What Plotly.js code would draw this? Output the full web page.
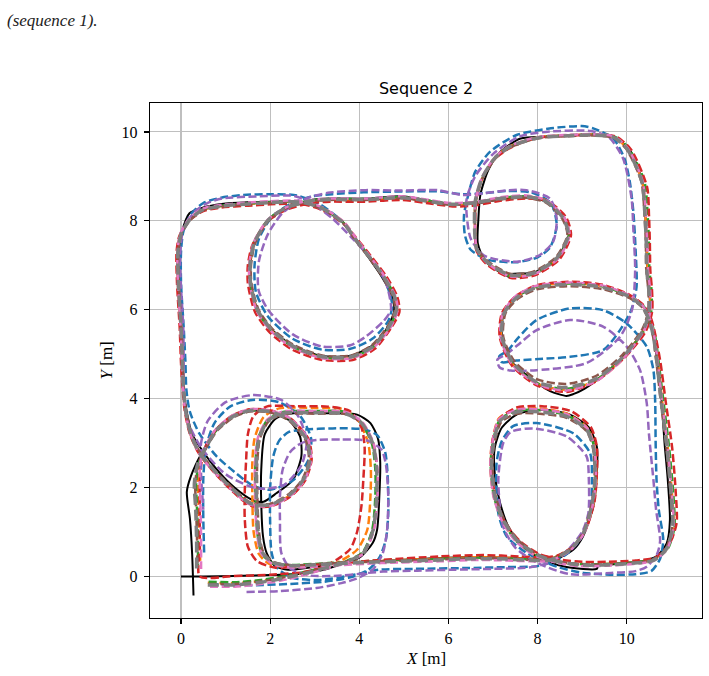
<!DOCTYPE html>
<html><head><meta charset="utf-8">
<script src="https://cdn.plot.ly/plotly-3.0.1.min.js"></script>
<style>body{margin:0;background:#fff}#plot{width:709px;height:676px}</style>
</head><body><div id="plot"></div>
<script>
// ---------- data (x, y in metres) ----------
const groundTruth = [[0,0],[0.5,0],[1.2,0.01],[2.0,0.03],[2.7,0.06],[3.2,0.15],[3.6,0.28],[4.0,0.42],[4.3,0.75],[4.4,1.05],[4.45,1.8],[4.47,2.56],[4.42,3.1],[4.25,3.45],[3.95,3.64],[3.3,3.67],[2.6,3.68],[2.14,3.56],[1.88,3.2],[1.8,2.4],[1.8,1.65],[1.84,0.9],[1.92,0.53],[2.1,0.24],[2.4,0.15],[3.0,0.22],[3.5,0.3],[4.5,0.35],[5.5,0.4],[6.5,0.44],[7.3,0.42],[7.9,0.4],[8.35,0.37],[8.8,0.6],[9.02,0.9],[9.25,1.57],[9.33,2.3],[9.33,2.92],[9.15,3.35],[8.7,3.65],[8.1,3.75],[7.55,3.65],[7.2,3.35],[7.04,2.9],[7.04,2.3],[7.16,1.65],[7.38,1.05],[7.75,0.6],[8.2,0.35],[8.65,0.21],[9.33,0.17],[9.36,0.24],[9.8,0.28],[10.3,0.33],[10.67,0.45],[10.9,0.75],[10.97,1.27],[10.92,2.2],[10.85,3.0],[10.75,4.4],[10.65,5.1],[10.55,5.7],[10.4,6.05],[10.07,6.3],[9.47,6.53],[8.73,6.6],[7.98,6.53],[7.53,6.3],[7.25,5.95],[7.2,5.4],[7.4,4.85],[7.9,4.42],[8.28,4.17],[8.65,4.06],[8.8,4.1],[9.05,4.22],[9.33,4.42],[9.92,4.94],[10.35,5.5],[10.52,5.95],[10.5,6.5],[10.45,7.2],[10.42,8.13],[10.35,8.88],[10.05,9.62],[9.6,9.93],[8.9,9.93],[8.18,9.89],[7.62,9.85],[7.16,9.55],[6.9,9.15],[6.72,8.6],[6.67,8.0],[6.66,7.49],[6.82,7.1],[7.2,6.82],[7.38,6.74],[7.42,6.8],[7.9,6.83],[8.43,7.16],[8.7,7.68],[8.6,8.05],[8.2,8.43],[7.75,8.53],[7.16,8.48],[6.63,8.39],[6.05,8.38],[5.5,8.47],[4.95,8.55],[4.14,8.5],[3.34,8.5],[2.93,8.47],[2.37,8.31],[1.96,8.02],[1.64,7.49],[1.56,7.0],[1.57,6.59],[1.72,5.99],[2.04,5.55],[2.53,5.18],[3.17,4.96],[3.82,4.97],[4.3,5.2],[4.6,5.55],[4.78,5.95],[4.74,6.3],[4.5,6.75],[4.2,7.19],[3.9,7.6],[3.66,7.94],[3.17,8.28],[2.69,8.43],[2.0,8.43],[1.5,8.42],[0.91,8.38],[0.5,8.3],[0.19,8.17],[0.02,7.75],[-0.05,7.3],[-0.05,6.6],[0.0,5.6],[0.03,4.8],[0.05,4.3],[0.12,3.75],[0.25,3.2],[0.5,2.8],[0.85,2.35],[1.2,2.0],[1.6,1.72],[1.85,1.68],[2.14,1.87],[2.51,2.17],[2.7,2.7],[2.67,3.15],[2.44,3.5],[2.1,3.68],[1.6,3.73],[1.17,3.6],[0.8,3.3],[0.45,2.75],[0.22,2.25],[0.13,1.9],[0.2,1.3],[0.25,0.5],[0.28,-0.43]];

const estBlue = [[0.65,-0.17],[1.5,-0.2],[2.4,-0.17],[3.2,-0.12],[3.8,-0.02],[4.2,0.15],[4.45,0.42],[4.6,0.85],[4.65,1.42],[4.64,2.2],[4.58,2.8],[4.4,3.18],[4.1,3.31],[3.4,3.33],[2.74,3.3],[2.42,3.25],[2.2,3.05],[2.07,2.7],[2.0,2.0],[2.0,1.2],[2.03,0.55],[2.15,0.2],[2.5,-0.03],[3.1,-0.08],[3.8,0.02],[4.43,0.15],[5.2,0.17],[6.44,0.19],[7.31,0.21],[8.05,0.24],[8.58,0.45],[8.95,0.82],[9.18,1.42],[9.22,2.17],[9.18,2.77],[8.8,3.22],[7.98,3.45],[7.45,3.38],[7.2,3.05],[7.08,2.55],[7.12,1.42],[7.31,0.9],[7.75,0.53],[8.43,0.22],[9.03,0.08],[9.7,0.04],[10.2,0.05],[10.55,0.12],[10.75,0.4],[10.82,0.82],[10.72,1.5],[10.67,2.17],[10.65,3.0],[10.64,3.9],[10.6,4.64],[10.45,5.17],[10.0,5.69],[9.47,5.99],[8.73,6.03],[7.98,5.77],[7.55,5.35],[7.33,5.08],[7.14,4.95],[7.2,4.82],[7.53,4.86],[8.2,4.9],[8.73,4.94],[9.47,5.09],[9.85,5.54],[10.1,5.99],[10.22,6.5],[10.2,7.34],[10.15,8.2],[10.07,8.88],[9.95,9.4],[9.7,9.85],[9.25,10.08],[8.99,10.13],[8.3,10.08],[7.53,9.93],[6.93,9.55],[6.6,9.1],[6.45,8.6],[6.35,8.13],[6.37,7.68],[6.5,7.35],[6.9,7.12],[7.53,7.07],[8.0,7.18],[8.28,7.4],[8.43,7.9],[8.3,8.4],[7.85,8.64],[7.3,8.67],[6.8,8.62],[6.3,8.6],[5.8,8.66],[5.0,8.66],[4.1,8.64],[3.4,8.6],[2.95,8.55],[2.5,8.4],[2.05,8.1],[1.75,7.6],[1.65,7.0],[1.68,6.4],[1.95,5.85],[2.5,5.35],[3.17,5.1],[3.8,5.12],[4.3,5.35],[4.65,5.75],[4.74,6.1],[4.6,6.6],[4.3,7.1],[3.9,7.6],[3.6,8.0],[3.1,8.38],[2.6,8.57],[2.0,8.6],[1.4,8.58],[0.9,8.52],[0.5,8.4],[0.22,8.15],[0.05,7.75],[0.0,7.3],[0.0,6.6],[0.06,5.6],[0.1,4.8],[0.12,4.2],[0.2,3.7],[0.42,3.2],[0.8,2.7],[1.2,2.35],[1.6,2.05],[2.0,1.95],[2.5,2.15],[2.85,2.6],[2.92,3.1],[2.68,3.6],[2.2,3.92],[1.6,3.97],[1.1,3.82],[0.75,3.45],[0.56,2.9],[0.5,2.2],[0.5,1.3],[0.52,0.5]];

const estOrange = [[0.6,-0.14],[1.2,-0.15],[1.8,-0.1],[2.4,0.0],[2.9,0.12],[3.3,0.24],[3.6,0.36],[3.95,0.6],[4.18,1.05],[4.25,1.8],[4.26,2.4],[4.2,3.0],[3.98,3.5],[3.65,3.76],[3.0,3.79],[2.2,3.78],[1.85,3.58],[1.65,3.1],[1.6,2.55],[1.6,1.88],[1.63,1.0],[1.75,0.5],[2.0,0.27],[2.5,0.22],[3.3,0.27],[4.5,0.35],[5.8,0.4],[6.56,0.43],[7.31,0.42],[7.9,0.39],[8.3,0.4],[8.75,0.63],[9.05,1.0],[9.24,1.57],[9.32,2.17],[9.28,2.92],[9.12,3.34],[8.66,3.66],[8.05,3.78],[7.53,3.77],[7.13,3.55],[6.97,2.94],[6.94,2.47],[7.02,1.8],[7.21,1.26],[7.52,0.8],[7.97,0.47],[8.43,0.33],[8.95,0.27],[9.55,0.28],[10.15,0.31],[10.6,0.38],[10.9,0.62],[11.05,1.1],[11.02,1.8],[10.92,2.92],[10.8,3.9],[10.7,4.8],[10.61,5.4],[10.51,5.79],[10.36,6.08],[10.07,6.31],[9.47,6.53],[8.73,6.6],[7.98,6.53],[7.52,6.29],[7.23,5.92],[7.18,5.39],[7.43,4.79],[7.98,4.34],[8.65,4.2],[9.33,4.42],[9.93,4.93],[10.38,5.54],[10.52,5.95],[10.52,6.4],[10.47,6.89],[10.45,7.5],[10.42,8.13],[10.35,8.88],[10.01,9.63],[9.7,9.89],[9.2,9.94],[8.6,9.92],[8.1,9.89],[7.75,9.81],[7.35,9.66],[7.05,9.43],[6.76,8.95],[6.61,8.43],[6.6,7.75],[6.64,7.37],[6.87,7.06],[7.38,6.76],[7.91,6.8],[8.45,7.15],[8.71,7.68],[8.6,8.06],[8.21,8.45],[7.75,8.55],[7.16,8.51],[6.63,8.41],[6.03,8.37],[5.5,8.45],[4.95,8.52],[4.14,8.47],[3.34,8.47],[2.93,8.44],[2.36,8.29],[1.95,8.01],[1.63,7.48],[1.54,7.0],[1.55,6.59],[1.71,5.98],[2.03,5.53],[2.52,5.15],[3.17,4.92],[3.83,4.92],[4.31,5.16],[4.69,5.61],[4.85,5.99],[4.8,6.3],[4.56,6.75],[4.23,7.2],[3.91,7.61],[3.67,7.95],[3.17,8.28],[2.69,8.42],[2.0,8.41],[1.5,8.38],[0.91,8.33],[0.5,8.25],[0.19,8.03],[-0.01,7.7],[-0.08,7.3],[-0.07,6.6],[-0.01,5.6],[0.02,4.8],[0.04,4.3],[0.09,3.75],[0.21,3.2],[0.41,2.76],[0.79,2.31],[1.16,1.94],[1.54,1.63],[1.99,1.59],[2.45,1.83],[2.76,2.16],[2.91,2.62],[2.84,3.08],[2.45,3.54],[1.99,3.73],[1.54,3.75],[1.16,3.61],[0.79,3.3],[0.56,2.92],[0.42,2.55],[0.38,2.1],[0.4,1.5],[0.42,0.8],[0.43,0.35]];

const estGreen = [[0.62,-0.12],[1.2,-0.13],[1.8,-0.08],[2.4,0.02],[2.9,0.13],[3.35,0.25],[3.7,0.34],[4.08,0.55],[4.29,1.05],[4.36,1.8],[4.36,2.4],[4.28,3.0],[4.03,3.47],[3.7,3.7],[3.0,3.72],[2.29,3.7],[1.94,3.52],[1.73,3.1],[1.67,2.55],[1.67,1.88],[1.71,1.0],[1.81,0.52],[2.05,0.3],[2.5,0.26],[3.3,0.3],[4.5,0.36],[5.8,0.4],[6.56,0.42],[7.31,0.41],[7.9,0.38],[8.28,0.39],[8.74,0.62],[9.04,0.99],[9.23,1.57],[9.3,2.17],[9.27,2.92],[9.11,3.32],[8.65,3.63],[8.05,3.74],[7.53,3.73],[7.15,3.52],[6.98,2.92],[6.95,2.47],[7.02,1.8],[7.21,1.26],[7.51,0.81],[7.97,0.48],[8.43,0.33],[8.95,0.28],[9.55,0.28],[10.15,0.32],[10.62,0.39],[10.92,0.62],[11.07,1.1],[11.05,1.8],[10.95,2.92],[10.83,3.9],[10.72,4.8],[10.64,5.4],[10.53,5.8],[10.37,6.09],[10.07,6.31],[9.47,6.52],[8.73,6.59],[7.98,6.52],[7.52,6.28],[7.23,5.92],[7.18,5.39],[7.43,4.79],[7.98,4.35],[8.65,4.22],[9.33,4.43],[9.93,4.94],[10.4,5.54],[10.55,5.95],[10.56,6.4],[10.51,6.89],[10.5,7.5],[10.47,8.13],[10.4,8.88],[10.04,9.64],[9.72,9.9],[9.2,9.94],[8.6,9.92],[8.1,9.89],[7.75,9.81],[7.35,9.66],[7.05,9.43],[6.76,8.96],[6.61,8.43],[6.6,7.75],[6.64,7.37],[6.87,7.06],[7.38,6.76],[7.9,6.8],[8.44,7.15],[8.71,7.68],[8.6,8.06],[8.2,8.44],[7.75,8.55],[7.16,8.51],[6.63,8.42],[6.03,8.38],[5.5,8.46],[4.95,8.53],[4.14,8.49],[3.34,8.49],[2.93,8.46],[2.36,8.3],[1.95,8.02],[1.63,7.49],[1.54,7.0],[1.55,6.59],[1.71,5.98],[2.03,5.53],[2.53,5.16],[3.17,4.93],[3.82,4.93],[4.31,5.16],[4.68,5.62],[4.84,5.99],[4.8,6.29],[4.56,6.74],[4.23,7.19],[3.91,7.6],[3.66,7.94],[3.17,8.28],[2.69,8.43],[2.0,8.42],[1.5,8.39],[0.91,8.34],[0.5,8.26],[0.2,8.04],[0.0,7.7],[-0.07,7.3],[-0.06,6.6],[0.0,5.6],[0.03,4.8],[0.05,4.3],[0.1,3.75],[0.22,3.2],[0.42,2.77],[0.8,2.32],[1.17,1.95],[1.54,1.64],[1.99,1.6],[2.45,1.83],[2.75,2.17],[2.9,2.62],[2.83,3.07],[2.45,3.53],[1.99,3.72],[1.54,3.74],[1.17,3.61],[0.8,3.3],[0.57,2.92],[0.4,2.55],[0.34,2.1],[0.36,1.5],[0.38,0.8],[0.38,0.25]];

const estRed = [[0.42,0.0],[1.2,0.01],[2.0,0.04],[2.7,0.09],[3.15,0.2],[3.5,0.38],[3.8,0.62],[3.95,1.0],[4.05,1.6],[4.09,2.17],[4.12,2.9],[4.05,3.35],[3.79,3.72],[3.3,3.82],[2.6,3.83],[1.92,3.82],[1.62,3.6],[1.5,3.2],[1.46,2.6],[1.43,1.9],[1.43,1.3],[1.5,0.67],[1.7,0.35],[2.1,0.2],[2.7,0.24],[3.5,0.3],[4.5,0.37],[5.8,0.45],[6.8,0.48],[7.6,0.45],[8.1,0.43],[8.45,0.47],[8.85,0.72],[9.1,1.1],[9.28,1.7],[9.33,2.3],[9.33,2.92],[9.2,3.35],[8.75,3.72],[8.1,3.83],[7.53,3.8],[7.15,3.55],[6.98,3.0],[6.97,2.4],[7.06,1.75],[7.28,1.2],[7.62,0.78],[8.05,0.5],[8.5,0.38],[9.0,0.33],[9.6,0.33],[10.2,0.36],[10.65,0.43],[10.97,0.75],[11.12,1.2],[11.1,1.9],[11.02,2.9],[10.88,3.9],[10.76,4.8],[10.65,5.4],[10.55,5.8],[10.38,6.1],[10.07,6.33],[9.47,6.56],[8.73,6.63],[7.98,6.55],[7.5,6.3],[7.2,5.92],[7.15,5.39],[7.42,4.75],[7.98,4.3],[8.65,4.15],[9.33,4.4],[9.95,4.92],[10.42,5.5],[10.57,5.95],[10.57,6.4],[10.53,6.89],[10.52,7.5],[10.5,8.13],[10.46,8.75],[10.1,9.6],[9.75,9.9],[9.2,9.93],[8.6,9.91],[8.1,9.88],[7.75,9.8],[7.35,9.62],[7.05,9.4],[6.75,8.95],[6.62,8.43],[6.6,7.75],[6.63,7.33],[6.86,7.02],[7.38,6.72],[7.9,6.76],[8.48,7.12],[8.75,7.68],[8.64,8.08],[8.22,8.45],[7.75,8.5],[7.16,8.45],[6.63,8.35],[6.16,8.32],[5.5,8.4],[4.95,8.47],[4.14,8.43],[3.34,8.43],[2.93,8.4],[2.37,8.25],[1.93,7.98],[1.6,7.45],[1.5,7.0],[1.5,6.59],[1.66,5.95],[2.0,5.48],[2.5,5.1],[3.17,4.87],[3.85,4.87],[4.35,5.12],[4.72,5.6],[4.9,5.95],[4.85,6.3],[4.6,6.76],[4.25,7.22],[3.92,7.63],[3.66,7.92],[3.17,8.24],[2.69,8.38],[2.0,8.37],[1.5,8.34],[0.91,8.3],[0.5,8.22],[0.18,8.0],[-0.04,7.65],[-0.1,7.3],[-0.09,6.6],[-0.03,5.6],[0.0,4.8],[0.03,4.3],[0.08,3.75],[0.2,3.2],[0.4,2.77],[0.78,2.3],[1.15,1.92],[1.54,1.6],[1.99,1.57],[2.46,1.8],[2.78,2.15],[2.93,2.62],[2.86,3.09],[2.46,3.55],[1.99,3.74],[1.54,3.76],[1.15,3.62],[0.78,3.3],[0.55,2.92],[0.45,2.5],[0.42,2.0],[0.42,1.3],[0.42,0.6],[0.42,0.0]];

const estPurple = [[1.47,-0.35],[2.2,-0.33],[3.04,-0.26],[3.6,-0.15],[3.94,-0.05],[4.3,0.15],[4.52,0.5],[4.62,1.0],[4.65,1.8],[4.6,2.5],[4.5,2.85],[4.2,3.05],[3.6,3.08],[3.04,3.07],[2.7,3.0],[2.45,2.8],[2.28,2.4],[2.22,1.8],[2.22,1.27],[2.25,0.53],[2.45,0.18],[2.9,0.02],[3.6,0.02],[4.2,0.08],[4.54,0.11],[5.3,0.13],[6.04,0.15],[7.0,0.17],[7.8,0.2],[8.3,0.32],[8.7,0.62],[9.0,1.0],[9.14,1.42],[9.15,2.2],[9.1,2.7],[8.65,3.15],[7.9,3.33],[7.4,3.25],[7.23,3.0],[7.12,2.17],[7.23,1.12],[7.5,0.65],[8.0,0.3],[8.73,0.05],[9.65,0.08],[10.2,0.12],[10.45,0.22],[10.68,0.5],[10.75,0.8],[10.66,1.5],[10.6,2.17],[10.5,3.2],[10.45,3.9],[10.3,4.64],[10.0,5.17],[9.47,5.62],[8.73,5.77],[7.98,5.54],[7.55,5.2],[7.3,5.0],[7.1,4.88],[7.15,4.7],[7.4,4.63],[7.98,4.64],[9.1,4.8],[9.85,5.39],[10.12,6.0],[10.19,6.89],[10.15,7.8],[10.11,8.5],[9.92,9.4],[9.6,9.88],[9.2,10.02],[8.18,10.0],[7.6,9.9],[7.0,9.5],[6.6,9.0],[6.41,8.5],[6.41,8.13],[6.5,7.6],[6.8,7.22],[7.53,7.08],[8.05,7.23],[8.35,7.53],[8.43,8.05],[8.28,8.5],[7.75,8.69],[7.37,8.69],[6.8,8.62],[6.32,8.58],[5.76,8.69],[4.95,8.68],[4.14,8.69],[3.3,8.63],[2.8,8.5],[2.3,8.2],[1.95,7.7],[1.75,7.1],[1.74,6.44],[1.96,5.99],[2.5,5.45],[3.17,5.17],[3.8,5.2],[4.14,5.39],[4.55,5.75],[4.71,6.0],[4.6,6.6],[4.3,7.1],[3.85,7.6],[3.4,8.05],[2.9,8.42],[2.53,8.56],[1.72,8.55],[0.92,8.5],[0.59,8.4],[0.3,8.2],[0.05,7.8],[-0.02,7.2],[0.0,6.5],[0.05,5.6],[0.06,4.8],[0.06,4.2],[0.15,3.5],[0.45,2.9],[1.0,2.3],[1.7,1.98],[2.3,2.05],[2.7,2.5],[2.82,3.05],[2.62,3.62],[2.25,3.97],[1.62,4.08],[1.0,3.92],[0.6,3.5],[0.45,3.0],[0.45,2.3],[0.5,1.5]];

const estBrown = [[0.62,-0.17],[1.2,-0.17],[1.8,-0.11],[2.4,0.0],[2.9,0.11],[3.35,0.23],[3.7,0.33],[4.1,0.54],[4.32,1.05],[4.4,1.8],[4.4,2.4],[4.31,3.0],[4.06,3.45],[3.7,3.65],[3.0,3.66],[2.29,3.65],[1.96,3.48],[1.77,3.1],[1.71,2.55],[1.71,1.88],[1.75,1.0],[1.84,0.56],[2.06,0.33],[2.5,0.25],[3.3,0.29],[4.5,0.34],[5.8,0.38],[6.56,0.41],[7.31,0.4],[7.9,0.37],[8.28,0.38],[8.72,0.61],[9.02,0.98],[9.2,1.57],[9.28,2.17],[9.24,2.92],[9.09,3.28],[8.65,3.57],[8.05,3.66],[7.53,3.66],[7.18,3.47],[7.02,2.92],[6.99,2.47],[7.06,1.8],[7.25,1.28],[7.55,0.83],[7.99,0.5],[8.43,0.35],[8.95,0.27],[9.55,0.27],[10.15,0.31],[10.6,0.37],[10.87,0.61],[11.02,1.1],[10.99,1.8],[10.89,2.92],[10.77,3.9],[10.67,4.8],[10.59,5.4],[10.49,5.78],[10.34,6.06],[10.07,6.26],[9.47,6.46],[8.73,6.53],[7.98,6.46],[7.55,6.24],[7.28,5.92],[7.23,5.39],[7.48,4.84],[7.98,4.44],[8.65,4.33],[9.33,4.52],[9.9,4.98],[10.35,5.56],[10.48,5.95],[10.49,6.4],[10.44,6.89],[10.43,7.5],[10.4,8.13],[10.33,8.88],[9.99,9.62],[9.7,9.87],[9.2,9.92],[8.6,9.9],[8.1,9.87],[7.75,9.79],[7.36,9.64],[7.06,9.41],[6.76,8.94],[6.61,8.43],[6.6,7.75],[6.64,7.39],[6.87,7.1],[7.38,6.81],[7.89,6.85],[8.41,7.18],[8.67,7.68],[8.56,8.04],[8.19,8.41],[7.75,8.52],[7.16,8.48],[6.63,8.4],[6.03,8.36],[5.5,8.44],[4.95,8.51],[4.14,8.47],[3.34,8.47],[2.93,8.44],[2.38,8.29],[1.97,8.01],[1.66,7.49],[1.57,7.0],[1.58,6.59],[1.74,6.0],[2.06,5.56],[2.54,5.2],[3.17,4.97],[3.81,4.97],[4.28,5.2],[4.64,5.63],[4.8,5.99],[4.76,6.28],[4.53,6.73],[4.21,7.18],[3.89,7.59],[3.65,7.93],[3.17,8.27],[2.69,8.41],[2.0,8.4],[1.5,8.37],[0.91,8.32],[0.5,8.24],[0.21,8.02],[0.01,7.7],[-0.06,7.3],[-0.05,6.6],[0.01,5.6],[0.04,4.8],[0.06,4.3],[0.11,3.75],[0.23,3.2],[0.43,2.78],[0.81,2.33],[1.18,1.97],[1.54,1.67],[1.99,1.63],[2.43,1.86],[2.72,2.18],[2.87,2.62],[2.8,3.06],[2.43,3.5],[1.99,3.69],[1.54,3.71],[1.18,3.58],[0.82,3.29],[0.58,2.92],[0.39,2.55],[0.32,2.1],[0.34,1.5],[0.36,0.8],[0.37,0.2]];

const estPink = [[0.65,-0.23],[1.2,-0.23],[1.8,-0.17],[2.4,-0.06],[2.9,0.07],[3.35,0.2],[3.7,0.3],[4.1,0.52],[4.33,1.05],[4.41,1.8],[4.41,2.4],[4.32,3.0],[4.07,3.47],[3.7,3.7],[3.0,3.72],[2.29,3.71],[1.93,3.52],[1.72,3.1],[1.66,2.55],[1.66,1.88],[1.7,1.0],[1.8,0.52],[2.05,0.28],[2.5,0.2],[3.3,0.24],[4.5,0.3],[5.8,0.34],[6.56,0.37],[7.31,0.36],[7.9,0.34],[8.28,0.35],[8.73,0.58],[9.05,0.98],[9.23,1.57],[9.31,2.17],[9.27,2.92],[9.12,3.33],[8.65,3.65],[8.05,3.76],[7.53,3.75],[7.13,3.53],[6.97,2.92],[6.94,2.47],[7.01,1.8],[7.2,1.25],[7.5,0.8],[7.96,0.46],[8.43,0.31],[8.95,0.23],[9.55,0.24],[10.15,0.28],[10.6,0.35],[10.9,0.6],[11.05,1.1],[11.02,1.8],[10.92,2.92],[10.8,3.9],[10.7,4.8],[10.62,5.4],[10.52,5.8],[10.36,6.09],[10.07,6.32],[9.47,6.54],[8.73,6.61],[7.98,6.54],[7.5,6.3],[7.22,5.92],[7.17,5.39],[7.42,4.78],[7.98,4.33],[8.65,4.18],[9.33,4.4],[9.94,4.92],[10.39,5.53],[10.53,5.95],[10.53,6.4],[10.48,6.89],[10.46,7.5],[10.43,8.13],[10.36,8.88],[10.02,9.64],[9.7,9.9],[9.2,9.95],[8.6,9.93],[8.1,9.9],[7.75,9.82],[7.35,9.67],[7.05,9.44],[6.75,8.97],[6.61,8.43],[6.6,7.75],[6.64,7.36],[6.87,7.05],[7.38,6.75],[7.92,6.8],[8.46,7.15],[8.72,7.68],[8.6,8.07],[8.2,8.46],[7.75,8.57],[7.16,8.53],[6.63,8.43],[6.03,8.4],[5.5,8.48],[4.95,8.55],[4.14,8.5],[3.34,8.5],[2.93,8.47],[2.35,8.3],[1.94,8.02],[1.62,7.49],[1.53,7.0],[1.54,6.59],[1.7,5.97],[2.02,5.52],[2.52,5.14],[3.17,4.91],[3.84,4.91],[4.32,5.15],[4.7,5.6],[4.86,5.99],[4.81,6.3],[4.57,6.75],[4.24,7.2],[3.92,7.62],[3.67,7.96],[3.17,8.3],[2.69,8.45],[2.0,8.44],[1.5,8.41],[0.91,8.36],[0.5,8.28],[0.18,8.05],[-0.02,7.7],[-0.08,7.3],[-0.07,6.6],[-0.01,5.6],[0.02,4.8],[0.04,4.3],[0.09,3.75],[0.21,3.2],[0.41,2.75],[0.79,2.3],[1.16,1.93],[1.54,1.62],[1.99,1.58],[2.46,1.82],[2.77,2.16],[2.92,2.62],[2.85,3.08],[2.46,3.55],[1.99,3.74],[1.54,3.76],[1.15,3.62],[0.78,3.31],[0.55,2.92],[0.43,2.55],[0.42,2.1],[0.44,1.5],[0.45,0.8],[0.45,0.1]];

const estGray = [[0.6,-0.19],[1.2,-0.19],[1.8,-0.13],[2.4,-0.02],[2.9,0.1],[3.35,0.22],[3.7,0.32],[4.09,0.53],[4.31,1.05],[4.39,1.8],[4.39,2.4],[4.3,3.0],[4.05,3.45],[3.7,3.66],[3.0,3.68],[2.29,3.67],[1.95,3.5],[1.75,3.1],[1.69,2.55],[1.69,1.88],[1.73,1.0],[1.82,0.55],[2.05,0.32],[2.5,0.24],[3.3,0.28],[4.5,0.33],[5.8,0.37],[6.56,0.4],[7.31,0.39],[7.9,0.36],[8.28,0.37],[8.73,0.6],[9.03,0.98],[9.21,1.57],[9.29,2.17],[9.25,2.92],[9.1,3.3],[8.65,3.6],[8.05,3.7],[7.53,3.7],[7.16,3.5],[7.0,2.92],[6.97,2.47],[7.04,1.8],[7.23,1.27],[7.53,0.82],[7.98,0.49],[8.43,0.34],[8.95,0.26],[9.55,0.26],[10.15,0.3],[10.6,0.36],[10.88,0.6],[11.03,1.1],[11.0,1.8],[10.9,2.92],[10.78,3.9],[10.68,4.8],[10.6,5.4],[10.5,5.78],[10.35,6.07],[10.07,6.29],[9.47,6.5],[8.73,6.57],[7.98,6.5],[7.53,6.27],[7.25,5.92],[7.2,5.39],[7.45,4.8],[7.98,4.37],[8.65,4.25],[9.33,4.45],[9.92,4.94],[10.37,5.54],[10.5,5.95],[10.5,6.4],[10.45,6.89],[10.44,7.5],[10.41,8.13],[10.34,8.88],[10.0,9.63],[9.7,9.88],[9.2,9.93],[8.6,9.91],[8.1,9.88],[7.75,9.8],[7.35,9.65],[7.05,9.42],[6.75,8.95],[6.6,8.43],[6.59,7.75],[6.63,7.38],[6.86,7.08],[7.38,6.78],[7.9,6.82],[8.43,7.16],[8.69,7.68],[8.58,8.05],[8.2,8.43],[7.75,8.54],[7.16,8.5],[6.63,8.41],[6.03,8.37],[5.5,8.45],[4.95,8.52],[4.14,8.48],[3.34,8.48],[2.93,8.45],[2.37,8.3],[1.96,8.02],[1.64,7.49],[1.55,7.0],[1.56,6.59],[1.72,5.99],[2.04,5.54],[2.53,5.17],[3.17,4.94],[3.82,4.94],[4.3,5.17],[4.67,5.62],[4.83,5.99],[4.79,6.29],[4.55,6.74],[4.22,7.19],[3.9,7.6],[3.66,7.94],[3.17,8.28],[2.69,8.42],[2.0,8.41],[1.5,8.38],[0.91,8.33],[0.5,8.25],[0.2,8.03],[0.0,7.7],[-0.07,7.3],[-0.06,6.6],[0.0,5.6],[0.03,4.8],[0.05,4.3],[0.1,3.75],[0.22,3.2],[0.42,2.77],[0.8,2.32],[1.17,1.95],[1.54,1.65],[1.99,1.61],[2.44,1.84],[2.74,2.17],[2.89,2.62],[2.82,3.07],[2.44,3.52],[1.99,3.71],[1.54,3.73],[1.17,3.6],[0.8,3.3],[0.57,2.92],[0.38,2.55],[0.3,2.1],[0.33,1.5],[0.35,0.8],[0.35,0.15]];

const tickValues = [0, 2, 4, 6, 8, 10];
const tickLabels = ['0', '2', '4', '6', '8', '10'];

// ---------- styling ----------
const series = [
  {pts: groundTruth, color: '#000000', width: 2.0, dash: 'solid'},
  {pts: estBlue,   color: '#1f77b4', width: 2.5, dash: '8px,3.5px'},
  {pts: estOrange, color: '#ff7f0e', width: 2.5, dash: '8px,3.5px'},
  {pts: estGreen,  color: '#2ca02c', width: 2.5, dash: '8px,3.5px'},
  {pts: estRed,    color: '#d62728', width: 2.5, dash: '8px,3.5px'},
  {pts: estPurple, color: '#9467bd', width: 2.5, dash: '8px,3.5px'},
  {pts: estBrown,  color: '#8c564b', width: 2.5, dash: '8px,3.5px'},
  {pts: estPink,   color: '#e377c2', width: 2.5, dash: '8px,3.5px'},
  {pts: estGray,   color: '#7f7f7f', width: 3.5, dash: '11px,5px'}
];

const traces = series.map(s => ({
  type: 'scatter', mode: 'lines',
  x: s.pts.map(p => p[0]), y: s.pts.map(p => p[1]),
  line: {color: s.color, width: s.width, dash: s.dash, shape: 'spline', smoothing: 0.7},
  hoverinfo: 'skip', showlegend: false
}));

const serif = 'Liberation Serif, DejaVu Serif, serif';
const axisCommon = {
  tickvals: tickValues, ticktext: tickLabels,
  showgrid: true, gridcolor: '#bfbfbf', gridwidth: 1.1,
  zeroline: false, showline: true, linecolor: '#000', linewidth: 1.3, mirror: true,
  ticks: 'outside', ticklen: 5, tickwidth: 1.2, tickcolor: '#000',
  tickfont: {family: serif, size: 16, color: '#000'}
};

const layout = {
  width: 709, height: 676,
  margin: {l: 150, r: 7, t: 103, b: 58},
  paper_bgcolor: '#ffffff', plot_bgcolor: '#ffffff',
  showlegend: false,
  title: {text: 'Sequence 2', font: {family: 'DejaVu Sans', size: 16, color: '#000'},
          x: 0.5, xref: 'paper', y: 1 - 88/676, yref: 'container', yanchor: 'middle'},
  xaxis: Object.assign({}, axisCommon, {range: [-0.696, 11.69]}),
  yaxis: Object.assign({}, axisCommon, {range: [-0.935, 10.65], ticklabelstandoff: 3}),
  annotations: [
    {text: '<i>X</i> [m]', xref: 'paper', yref: 'paper', x: 0.5, y: (618 - 658) / 515,
     xanchor: 'center', yanchor: 'middle', showarrow: false, font: {family: serif, size: 17, color: '#000'}},
    {text: '<i>Y</i> [m]', xref: 'paper', yref: 'paper', x: (106 - 150) / 552, y: 0.5, textangle: -90,
     xanchor: 'center', yanchor: 'middle', showarrow: false, font: {family: serif, size: 17, color: '#000'}},
    {text: '<i>(sequence 1).</i>', xref: 'paper', yref: 'paper', x: (5 - 150) / 552, y: (618 - 20) / 515,
     xanchor: 'left', yanchor: 'middle', showarrow: false, font: {family: serif, size: 17, color: '#222'}}
  ]
};

Plotly.newPlot('plot', traces, layout, {staticPlot: true, displayModeBar: false});
</script>
</body></html>
